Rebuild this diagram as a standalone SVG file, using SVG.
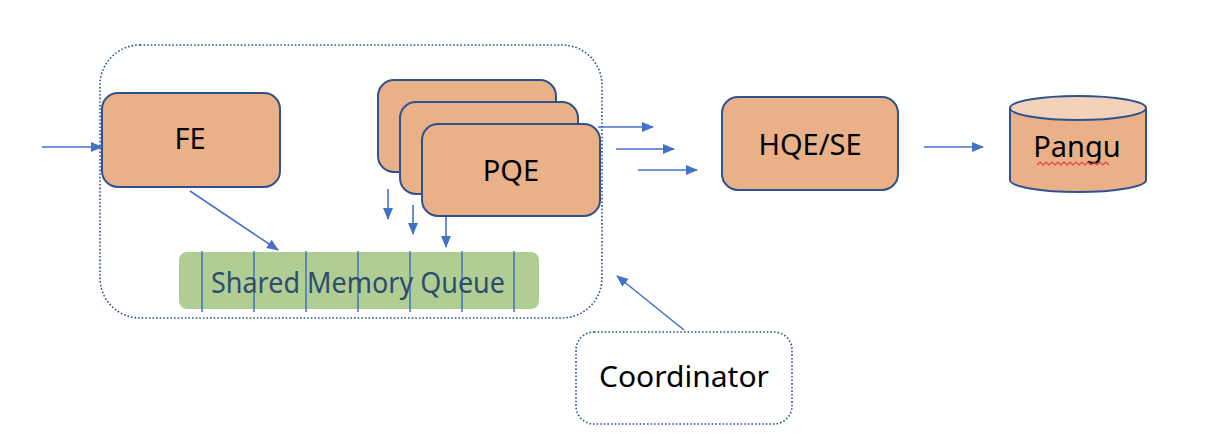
<svg xmlns="http://www.w3.org/2000/svg" width="1230" height="444" viewBox="0 0 1230 444">
<defs>
<style>
.box{fill:#eab189;stroke:#2f528f;stroke-width:2}
.lbl{font-family:"Noto Sans","Open Sans",sans-serif;font-size:29px;fill:#000;text-anchor:middle;dominant-baseline:central}
.conn line{stroke:#4472c4;stroke-width:1.6;fill:none}
.dotted{fill:none;stroke:#2f528f;stroke-width:1.6;stroke-dasharray:1.6 2}
.slot{stroke:#4472c4;stroke-width:1.5}
</style>
<marker id="ah" viewBox="0 0 12 10" refX="11" refY="5" markerWidth="12" markerHeight="10" markerUnits="userSpaceOnUse" orient="auto">
<path d="M0,0 L12,5 L0,10 z" fill="#4472c4"/>
</marker>
</defs>
<rect width="1230" height="444" fill="#fff"/>
<g id="container">
<rect class="dotted" x="100" y="45" width="502" height="273" rx="40"/>
</g>
<g id="fe">
<rect class="box" x="102" y="93" width="178" height="94" rx="16"/>
<text class="lbl" x="190" y="137">FE</text>
</g>
<g id="pqe">
<rect class="box" x="378" y="80" width="178" height="92" rx="16"/>
<rect class="box" x="400" y="102" width="178" height="92" rx="16"/>
<rect class="box" x="422" y="124" width="178" height="92" rx="16"/>
<text class="lbl" x="511" y="169">PQE</text>
</g>
<g id="smq">
<rect x="179" y="252" width="360" height="57" rx="8" fill="#b0ce93"/>
<line class="slot" x1="202" y1="251" x2="202" y2="312"/>
<line class="slot" x1="254" y1="251" x2="254" y2="312"/>
<line class="slot" x1="306" y1="251" x2="306" y2="312"/>
<line class="slot" x1="358" y1="251" x2="358" y2="312"/>
<line class="slot" x1="410" y1="251" x2="410" y2="312"/>
<line class="slot" x1="462" y1="251" x2="462" y2="312"/>
<line class="slot" x1="514" y1="251" x2="514" y2="312"/>
<text class="lbl" x="358" y="281" style="fill:#2f4b6e" textLength="294" lengthAdjust="spacingAndGlyphs">Shared Memory Queue</text>
</g>
<g id="hqe">
<rect class="box" x="722" y="97" width="176" height="93" rx="16"/>
<text class="lbl" x="810" y="143">HQE/SE</text>
</g>
<g id="pangu">
<path class="box" d="M1010,108 L1010,180 A68,12 0 0 0 1146,180 L1146,108"/>
<ellipse cx="1078" cy="108" rx="68" ry="12" fill="#f4d1b9" stroke="#2f528f" stroke-width="2"/>
<text class="lbl" x="1077" y="145">Pangu</text>
<path d="M1037,165 l3,-3 l3,3 l3,-3 l3,3 l3,-3 l3,3 l3,-3 l3,3 l3,-3 l3,3 l3,-3 l3,3 l3,-3 l3,3 l3,-3 l3,3 l3,-3 l3,3 l3,-3 l3,3 l3,-3 l3,3 l3,-3 l3,3" fill="none" stroke="#e0443a" stroke-width="1.2"/>
</g>
<g id="coordinator">
<rect class="dotted" x="576" y="332" width="216" height="92" rx="18"/>
<text class="lbl" x="684" y="375" textLength="170" lengthAdjust="spacingAndGlyphs">Coordinator</text>
</g>
<g class="conn" id="connectors">
<line x1="42" y1="147" x2="102" y2="147" marker-end="url(#ah)"/>
<line x1="190" y1="191" x2="278" y2="250" marker-end="url(#ah)"/>
<line x1="388" y1="189" x2="388" y2="219" marker-end="url(#ah)"/>
<line x1="413" y1="205" x2="413" y2="234" marker-end="url(#ah)"/>
<line x1="446" y1="217" x2="446" y2="247" marker-end="url(#ah)"/>
<line x1="598" y1="127" x2="653" y2="127" marker-end="url(#ah)"/>
<line x1="616" y1="149" x2="674" y2="149" marker-end="url(#ah)"/>
<line x1="638" y1="170" x2="697" y2="170" marker-end="url(#ah)"/>
<line x1="924" y1="147" x2="983" y2="147" marker-end="url(#ah)"/>
<line x1="684" y1="330" x2="617" y2="276" marker-end="url(#ah)"/>
</g>
</svg>
